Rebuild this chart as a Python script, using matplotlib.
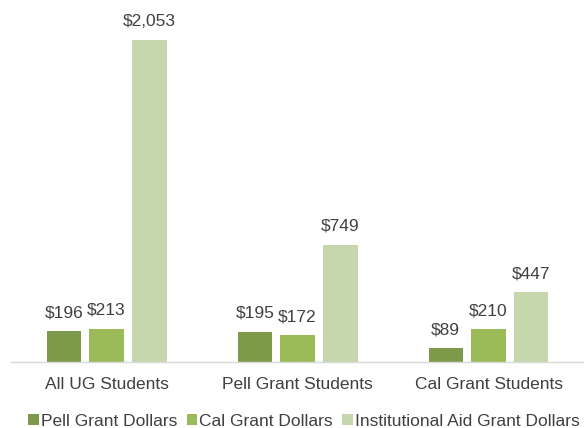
import matplotlib.pyplot as plt
import numpy as np

plt.rcParams['font.family'] = ['Liberation Sans', 'DejaVu Sans']

categories = ["All UG Students", "Pell Grant Students", "Cal Grant Students"]
series_names = ["Pell Grant Dollars", "Cal Grant Dollars", "Institutional Aid Grant Dollars"]
pell = [196, 195, 89]
cal = [213, 172, 210]
inst = [2053, 749, 447]
colors = ["#7d9a4a", "#9bbb59", "#c6d7ad"]

fig = plt.figure(figsize=(5.84, 4.28), dpi=100)
ax = fig.add_axes([0.019, 0.154, 0.981, 0.806])

x = np.arange(len(categories))
w = 0.18
step = 0.224
for i, (vals, c, name) in enumerate(zip([pell, cal, inst], colors, series_names)):
    bars = ax.bar(x + (i - 1) * step, vals, w, color=c, label=name)
    for b, v in zip(bars, vals):
        ax.text(b.get_x() + b.get_width() / 2, v + 70, "${:,}".format(v),
                ha='center', va='bottom', fontsize=12.5, color='#404040')

ax.set_xlim(-0.5, 2.5)
ax.set_ylim(0, 2200)
ax.set_xticks(x)
ax.set_xticklabels(categories, fontsize=12.5, color='#404040')
ax.tick_params(axis='x', length=0, pad=11)
ax.set_yticks([])
for s in ['top', 'right', 'left']:
    ax.spines[s].set_visible(False)
ax.spines['bottom'].set_color('#d9d9d9')
ax.spines['bottom'].set_linewidth(1.0)

leg = ax.legend(loc='upper left', bbox_to_anchor=(0.018, -0.13), ncol=3, frameon=False,
                fontsize=12.5, handlelength=0.6, handleheight=0.6, handletextpad=0.12,
                columnspacing=0.55, borderaxespad=0)
for t in leg.get_texts():
    t.set_color('#404040')

fig.savefig("out.png", dpi=100)
